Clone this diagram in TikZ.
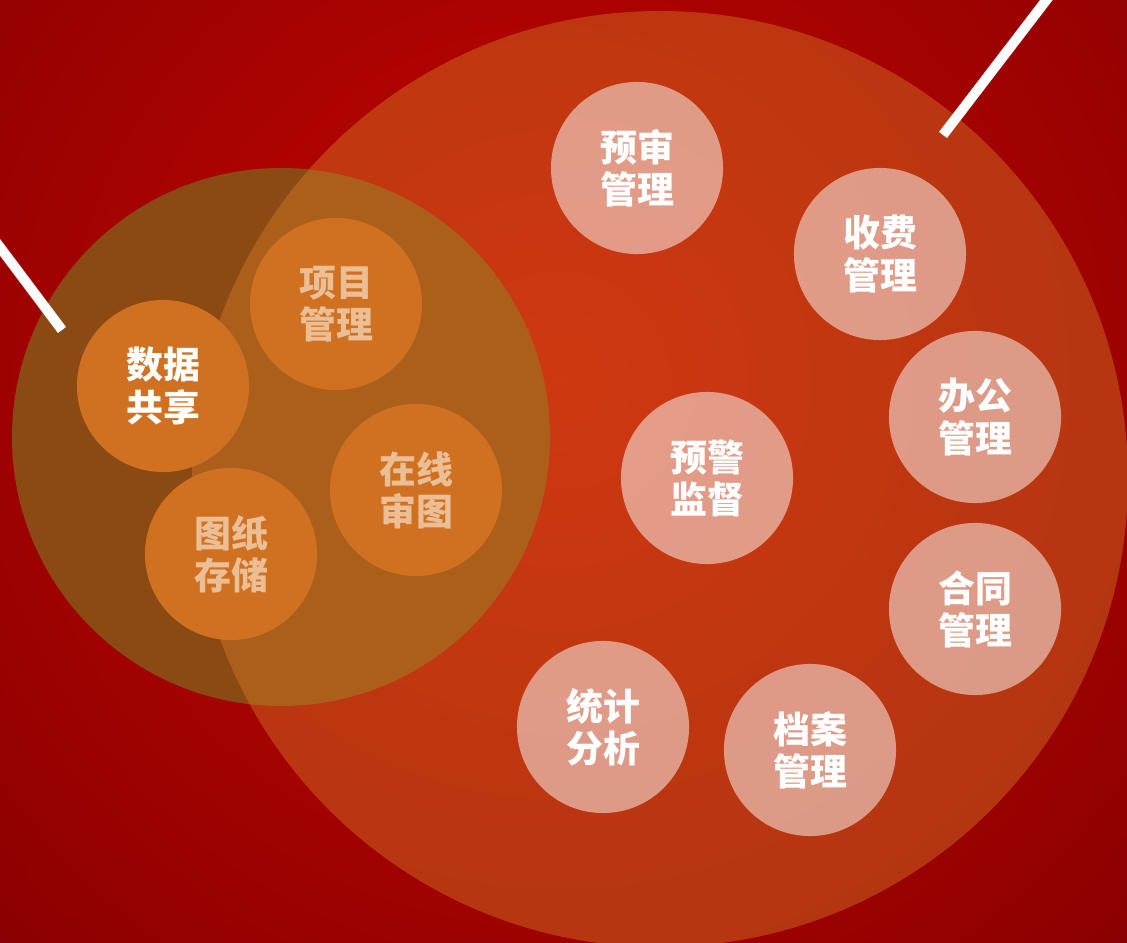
\documentclass[tikz,border=0pt]{standalone}
\usepackage{fontspec}
\newfontfamily\cjk{Noto Sans CJK SC}
\definecolor{bgin}{RGB}{200,6,2}
\definecolor{bgout}{RGB}{134,0,0}
\definecolor{bigfill}{RGB}{217,126,38}
\definecolor{hub}{RGB}{139,74,20}
\definecolor{orb}{RGB}{207,113,32}
\definecolor{peach}{RGB}{236,190,150}
\pgfdeclareradialshading{glow}{\pgfpoint{0bp}{0bp}}{color(0bp)=(bgin); color(25bp)=(bgout); color(50bp)=(bgout)}
\begin{document}
\begin{tikzpicture}
  [x=0.01cm,y=-0.01cm,
   lbl/.style={font=\cjk\bfseries\fontsize{10.5}{12}\selectfont,align=center},
   core/.style={lbl,circle,fill=orb,inner sep=0pt,minimum size=1.72cm,text=peach},
   module/.style={lbl,circle,fill=white,fill opacity=0.5,text opacity=1,inner sep=0pt,minimum size=1.72cm,text=white},
   bar/.style={white,line width=0.1cm}]
  \useasboundingbox (0,0) rectangle (1127,943);
  \clip (0,0) rectangle (1127,943);
  \fill[bgout] (0,0) rectangle (1127,943);
  \shade[shading=glow] (560,380) circle (850);

  \fill[hub] (281,437) circle (269);
  \fill[bigfill,fill opacity=0.42] (660,479) circle (468);

  \node[core,text=white] (share) at (163,386) {数据\\共享};
  \node[core] (project) at (336,304) {项目\\管理};
  \node[core] (online) at (416,490) {在线\\审图};
  \node[core] (drawings) at (231,554) {图纸\\存储};

  \node[module] (prereview) at (637,168) {预审\\管理};
  \node[module] (charge) at (880,254) {收费\\管理};
  \node[module] (office) at (975,417) {办公\\管理};
  \node[module] (warning) at (707,478) {预警\\监督};
  \node[module] (contract) at (975,609) {合同\\管理};
  \node[module] (stats) at (603,727) {统计\\分析};
  \node[module] (archive) at (810,750) {档案\\管理};

  \coordinate (tipne) at (943,135);
  \coordinate (endne) at (1054,-10);
  \coordinate (tipw) at (62,330);
  \coordinate (endw) at (-10,234);
  \draw[bar] (tipne) -- (endne);
  \draw[bar] (tipw) -- (endw);

\end{tikzpicture}
\end{document}
